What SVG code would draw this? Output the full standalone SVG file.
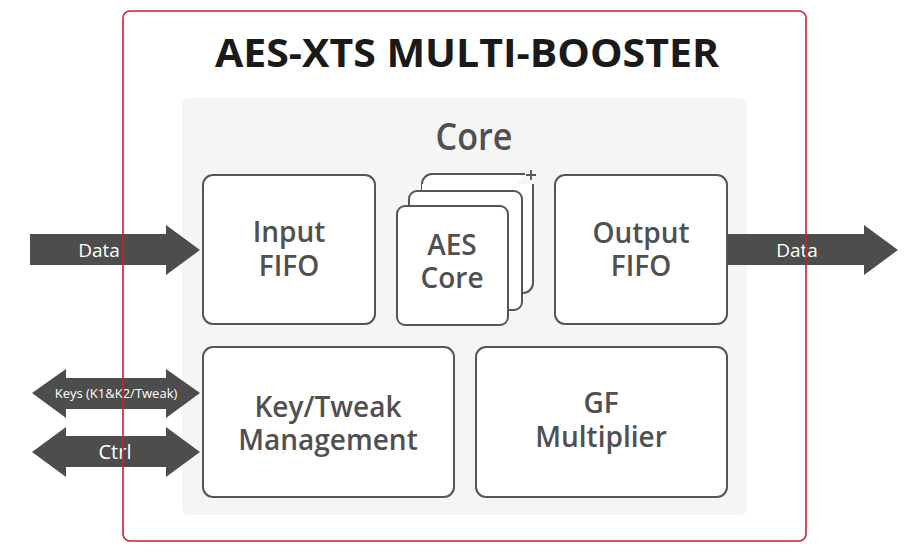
<svg xmlns="http://www.w3.org/2000/svg" width="908" height="553" viewBox="0 0 908 553">
<style>
.blk{fill:#fff;stroke:#555;stroke-width:2}
.lbl{font-family:"Open Sans","Liberation Sans",sans-serif;font-weight:600;fill:#505050;text-anchor:middle;font-size:28px}
.arr{fill:#4d4d4d}
.atx{font-family:"Open Sans","Liberation Sans",sans-serif;fill:#fff;text-anchor:middle}
</style>
<rect x="0" y="0" width="908" height="553" fill="#fff"/>
<rect x="123" y="11" width="683" height="530" rx="7" fill="#fff"/>
<g id="title"><text x="467" y="67" font-family="'Open Sans','Liberation Sans',sans-serif" font-weight="700" font-size="40" fill="#1a1a1a" text-anchor="middle" textLength="504" lengthAdjust="spacingAndGlyphs">AES-XTS MULTI-BOOSTER</text></g>
<g id="core">
<rect x="182" y="98" width="565" height="417" rx="6" fill="#f5f5f5"/>
<text x="474" y="150" class="lbl" style="font-size:37px" textLength="77" lengthAdjust="spacingAndGlyphs">Core</text>
</g>
<g id="connectors">
<g id="data-in"><path class="arr" d="M30 234H166V225L200 250L166 275V265H30Z"/><text class="atx" x="99" y="257" font-size="19">Data</text></g>
<g id="data-out"><path class="arr" d="M727 234H864V225L898 250L864 275V265H727Z"/><text class="atx" x="797" y="257" font-size="19">Data</text></g>
<g id="keys"><path class="arr" d="M32 393L66 369V378H166V369L200 393L166 418V409H66V418Z"/><text class="atx" x="116" y="398" font-size="13">Keys (K1&amp;K2/Tweak)</text></g>
<g id="ctrl"><path class="arr" d="M32 452L66 427V436H166V427L200 452L166 477V467H66V477Z"/><text class="atx" x="115" y="459" font-size="20">Ctrl</text></g>
</g>
<rect x="123" y="11" width="683" height="530" rx="7" fill="none" stroke="#c8202f" stroke-width="1.6"/>
<g id="input-fifo"><rect class="blk" x="203" y="175" width="172" height="149" rx="10"/><text class="lbl" x="289" y="242">Input</text><text class="lbl" x="289" y="276">FIFO</text></g>
<g id="aes-core">
<path d="M525 174H432a10 10 0 0 0-10 10V293" fill="#fff" stroke="#555" stroke-width="2"/>
<rect x="422" y="184" width="110" height="108" fill="#fff"/>
<path d="M533 184V283a10 10 0 0 1-10 10" fill="none" stroke="#555" stroke-width="2"/>
<path d="M526 175h10M531 170v10" stroke="#555" stroke-width="1.8"/>
<rect class="blk" x="409" y="191" width="113" height="119" rx="8"/>
<rect class="blk" x="397" y="206" width="111" height="119" rx="8"/>
<text class="lbl" x="452" y="255">AES</text><text class="lbl" x="452" y="288">Core</text>
</g>
<g id="output-fifo"><rect class="blk" x="555" y="175" width="172" height="149" rx="10"/><text class="lbl" x="641" y="243">Output</text><text class="lbl" x="641" y="276">FIFO</text></g>
<g id="key-tweak"><rect class="blk" x="203" y="347" width="251" height="150" rx="10"/><text class="lbl" x="328" y="417">Key/Tweak</text><text class="lbl" x="328" y="450">Management</text></g>
<g id="gf-mult"><rect class="blk" x="476" y="347" width="251" height="150" rx="10"/><text class="lbl" x="601" y="413">GF</text><text class="lbl" x="601" y="447">Multiplier</text></g>
</svg>
